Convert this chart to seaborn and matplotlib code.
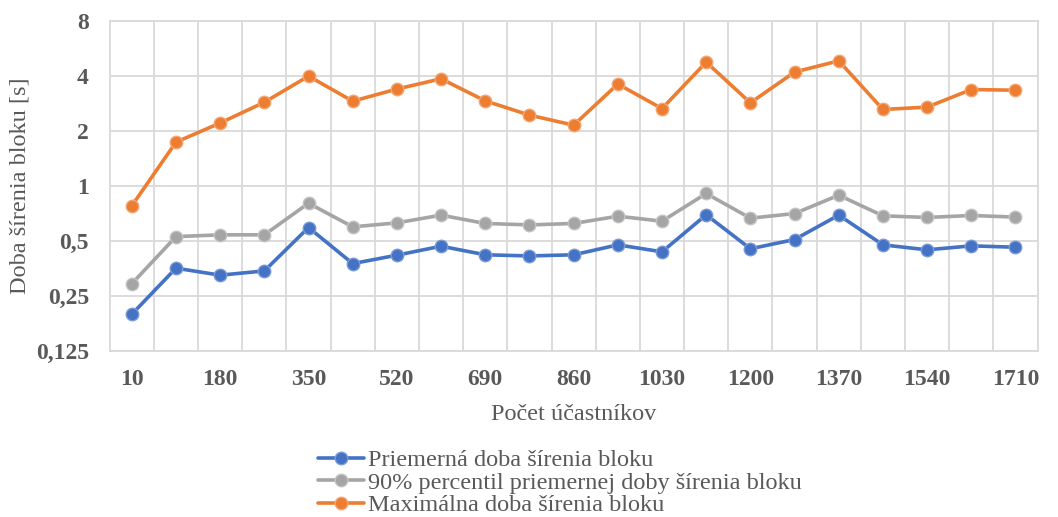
import numpy as np
import pandas as pd
import matplotlib
matplotlib.use("Agg")
import matplotlib.pyplot as plt
import seaborn as sns

# Data
participants = [10, 95, 180, 265, 350, 435, 520, 605, 690, 775, 860,
                945, 1030, 1115, 1200, 1285, 1370, 1455, 1540, 1625, 1710]
avg_time = [0.198, 0.354, 0.324, 0.342, 0.591, 0.375, 0.417, 0.467, 0.419, 0.413, 0.419,
            0.475, 0.435, 0.694, 0.452, 0.508, 0.691, 0.475, 0.446, 0.469, 0.461]
p90_time = [0.291, 0.527, 0.539, 0.539, 0.803, 0.596, 0.627, 0.691, 0.622, 0.611, 0.622,
            0.682, 0.640, 0.908, 0.665, 0.705, 0.889, 0.685, 0.671, 0.688, 0.674]
max_time = [0.777, 1.735, 2.21, 2.87, 3.99, 2.91, 3.39, 3.86, 2.92, 2.44, 2.15,
            3.61, 2.65, 4.76, 2.85, 4.20, 4.84, 2.62, 2.70, 3.37, 3.34]

series_names = ["Priemerná doba šírenia bloku",
                "90% percentil priemernej doby šírenia bloku",
                "Maximálna doba šírenia bloku"]
colors = ["#4472C4", "#A5A5A5", "#ED7D31"]
edge_colors = ["#7A9AD6", "#C4C4C4", "#F3A775"]

ytick_vals = [0.125, 0.25, 0.5, 1, 2, 4, 8]
ytick_labels = ["0,125", "0,25", "0,5", "1", "2", "4", "8"]
xtick_labels = [10, 180, 350, 520, 690, 860, 1030, 1200, 1370, 1540, 1710]

df = pd.DataFrame({
    "x": participants * 3,
    "y": avg_time + p90_time + max_time,
    "series": sum([[n] * len(participants) for n in series_names], []),
})

sns.set_style("white")
plt.rcParams["font.family"] = ["Liberation Serif", "DejaVu Serif"]

fig = plt.figure(figsize=(10.58, 5.17), dpi=100)
ax = fig.add_axes([0.1037, 0.3217, 0.877, 0.6377])

for name, c, ec in zip(series_names, colors, edge_colors):
    sub = df[df["series"] == name]
    sns.lineplot(data=sub, x="x", y="y", ax=ax, color=c, linewidth=2.6,
                 marker="o", markersize=9, markeredgecolor=ec,
                 markeredgewidth=1.0, label=name)

ax.set_yscale("log", base=2)
ax.set_ylim(0.125, 8)
ax.set_xlim(10 - 42.5, 1710 + 42.5)
ax.set_yticks(ytick_vals)
ax.set_yticklabels(ytick_labels)
ax.yaxis.set_minor_locator(matplotlib.ticker.NullLocator())
ax.set_xticks(xtick_labels)
ax.set_xticklabels([str(v) for v in xtick_labels])
ax.set_xticks(np.arange(10 + 42.5, 1710, 85), minor=True)

ax.grid(True, which="major", axis="y", color="#D9D9D9", linewidth=1.3)
ax.grid(True, which="minor", axis="x", color="#D9D9D9", linewidth=1.3)
ax.set_axisbelow(True)
for s in ax.spines.values():
    s.set_color("#D9D9D9")
    s.set_linewidth(1.3)

ax.tick_params(axis="both", which="both", length=0, colors="#595959")
ax.tick_params(axis="y", pad=15, labelsize=17)
ax.tick_params(axis="x", pad=13, labelsize=17)
for lab in ax.get_xticklabels() + ax.get_yticklabels():
    lab.set_fontweight("bold")

ax.set_xlabel("Počet účastníkov", fontsize=17.5, color="#595959", labelpad=10)
ax.set_ylabel("Doba šírenia bloku [s]", fontsize=17.5, color="#595959", labelpad=4)

ax.get_legend().remove()
handles, labels = ax.get_legend_handles_labels()
leg = fig.legend(handles, labels, loc="center", bbox_to_anchor=(0.529, 0.066),
                 frameon=False, fontsize=17.5, labelspacing=0.02,
                 handlelength=1.9, handletextpad=0.15, borderpad=0)
for t in leg.get_texts():
    t.set_color("#595959")

fig.savefig("out.png", dpi=100)
